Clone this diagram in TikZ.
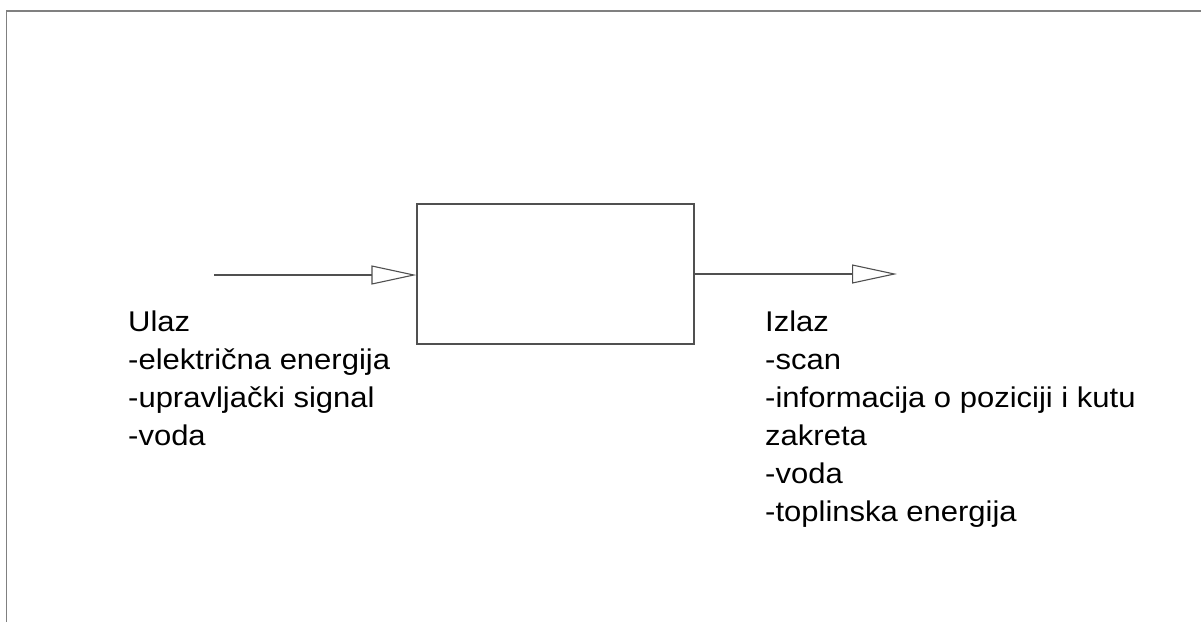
\documentclass[tikz,border=0pt]{standalone}
\usepackage{fontspec}
\setmainfont{Liberation Sans}
\usetikzlibrary{arrows.meta}
\definecolor{frameline}{HTML}{808080}
\definecolor{ink}{HTML}{505050}
\tikzset{
  blockbox/.style={draw=ink, line width=1.1pt, minimum width=277pt, minimum height=140pt, inner sep=0pt},
  flow/.style={draw=ink, line width=1.1pt, -{Triangle[open, length=45pt, width=19pt, fill=white]}},
  % base anchor of a multi-line node sits on its last line;
  % the lettering is slightly condensed vertically
  listtext/.style={anchor=base west, inner sep=0pt, align=left,
    font=\fontsize{31}{41.2}\selectfont, text=black, yscale=0.92, transform shape},
}
\begin{document}
\begin{tikzpicture}[x=1pt, y=-1pt]
  \useasboundingbox (0,0) rectangle (1201,622);
  % page frame, top and left edges
  \draw[frameline, line width=1.6pt] (6.5,622) -- (6.5,11) -- (1201,11);
  % the system block
  \node[blockbox] (sys) at (555.5,274) {};
  % input and output flows
  \coordinate (inStart) at (214,275);
  \coordinate (outEnd) at (897,274);
  \draw[flow] (inStart) -- (sys.west |- inStart);
  \draw[flow] (sys.east |- outEnd) -- (outEnd);
  % labels
  \node[listtext] (ulaz) at (128,445.5) {Ulaz\\-električna energija\\-upravljački signal\\-voda};
  \node[listtext] (izlaz) at (765,521) {Izlaz\\-scan\\-informacija o poziciji i kutu\\zakreta\\-voda\\-toplinska energija};
\end{tikzpicture}
\end{document}
